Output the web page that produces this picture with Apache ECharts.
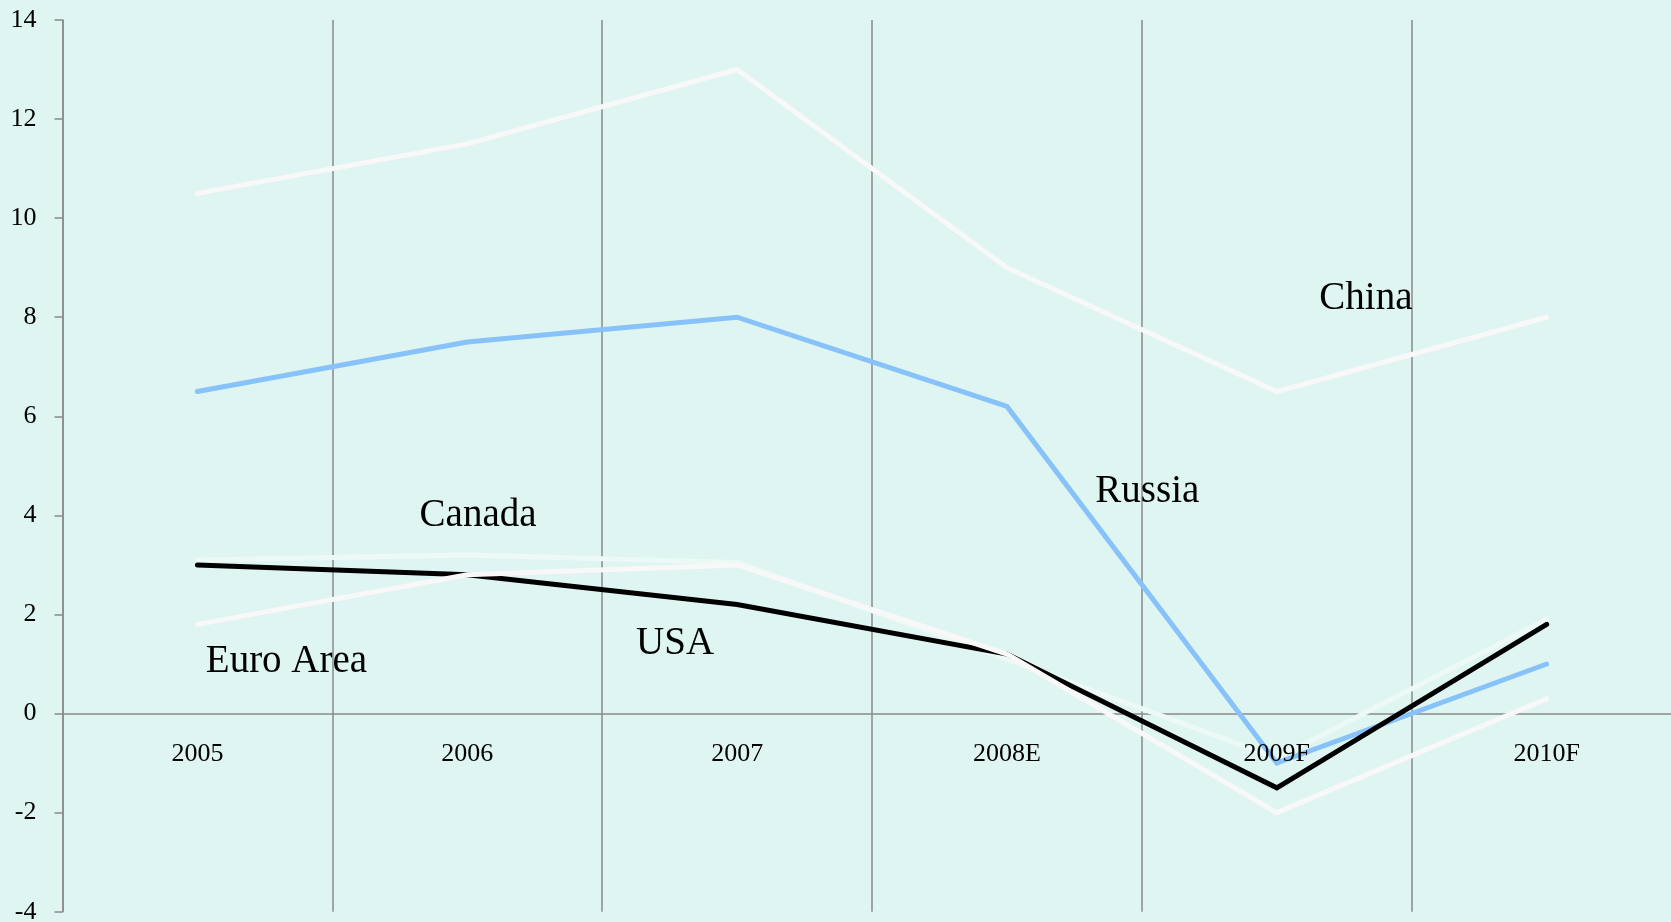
<!DOCTYPE html>
<html>
<head>
<meta charset="utf-8">
<script src="https://cdn.jsdelivr.net/npm/echarts@6/dist/echarts.min.js"></script>
<style>
html,body{margin:0;padding:0;background:#dff5f1;}
#chart{width:1671px;height:922px;}
</style>
</head>
<body>
<div id="chart"></div>
<script>
// ---- data ----
const categories = ['2005', '2006', '2007', '2008E', '2009F', '2010F'];
const china    = [10.5, 11.5, 13.0, 9.0, 6.5, 8.0];
const russia   = [6.5, 7.5, 8.0, 6.2, -1.0, 1.0];
const canada   = [3.1, 3.2, 3.05, 1.1, -0.9, 1.9];
const usa      = [3.0, 2.8, 2.2, 1.2, -1.5, 1.8];
const euroArea = [1.8, 2.8, 3.0, 1.2, -2.0, 0.3];
const yMin = -4, yMax = 14, yStep = 2;
const seriesNames = ['China', 'Russia', 'Canada', 'USA', 'Euro Area'];

// label anchors in data space (category index, value)
const labelAnchors = {
  'China':     [4.33, 8.38],
  'Russia':    [3.52, 4.47],
  'Canada':    [1.04, 3.99],
  'USA':       [1.77, 1.41],
  'Euro Area': [0.33, 1.05]
};

const FONT = '"Liberation Serif", "Times New Roman", serif';
const chart = echarts.init(document.getElementById('chart'), null, {renderer: 'canvas'});

function lineSeries(name, data, color, z) {
  return {
    name: name, type: 'line', data: data, symbol: 'none', z: z,
    lineStyle: {color: color, width: 5, cap: 'round', join: 'miter'},
    emphasis: {disabled: true}
  };
}

chart.setOption({
  animation: false,
  backgroundColor: '#dff5f1',
  grid: {left: 62.5, right: -10.6, top: 20, bottom: 10.3, containLabel: false, outerBoundsMode: 'none'},
  xAxis: [{
    type: 'category',
    data: categories,
    position: 'bottom',
    boundaryGap: true,
    axisLine: {show: true, onZero: false, lineStyle: {color: '#8a8a8a', width: 1.5}},
    axisTick: {show: false},
    axisLabel: {show: false},
    splitLine: {show: true, lineStyle: {color: '#8a8a8a', width: 1.5}}
  }, {
    type: 'category',
    data: categories,
    position: 'bottom',
    boundaryGap: true,
    z: 20,
    axisLine: {show: false, onZero: false},
    axisTick: {show: false},
    axisLabel: {color: '#000', fontFamily: FONT, fontSize: 26, margin: 28},
    splitLine: {show: false}
  }],
  yAxis: {
    type: 'value',
    min: yMin, max: yMax, interval: yStep,
    axisLine: {show: true, lineStyle: {color: '#8a8a8a', width: 1.5}},
    axisTick: {show: true, length: 8, lineStyle: {color: '#8a8a8a', width: 1.5}},
    axisLabel: {color: '#000', fontFamily: FONT, fontSize: 26, margin: 26},
    splitLine: {show: false}
  },
  series: [
    lineSeries('China', china, '#f8f8f8', 2),
    lineSeries('Canada', canada, '#ecf9f6', 3),
    lineSeries('Russia', russia, '#88c2fa', 4),
    lineSeries('USA', usa, '#000000', 5),
    lineSeries('Euro Area', euroArea, '#f8f8f8', 6)
  ]
});

// move the category axes (line + labels) up to the zero line
const zeroY = chart.convertToPixel({yAxisIndex: 0}, 0);
const bottomY = chart.convertToPixel({yAxisIndex: 0}, yMin);
chart.setOption({xAxis: [{offset: zeroY - bottomY}, {offset: zeroY - bottomY}]});

// place series name labels using the chart's own scales
const p0 = chart.convertToPixel({xAxisIndex: 0}, 0);
const p1 = chart.convertToPixel({xAxisIndex: 0}, 1);
const graphics = seriesNames.map(function (n) {
  const a = labelAnchors[n];
  const x = p0 + a[0] * (p1 - p0);
  const y = chart.convertToPixel({yAxisIndex: 0}, a[1]);
  return {
    type: 'text', x: x, y: y, z: 100,
    style: {
      text: n, fill: '#000', font: '39px ' + FONT,
      align: 'center', verticalAlign: 'middle',
      textAlign: 'center', textVerticalAlign: 'middle'
    }
  };
});
chart.setOption({graphic: graphics});
</script>
</body>
</html>
